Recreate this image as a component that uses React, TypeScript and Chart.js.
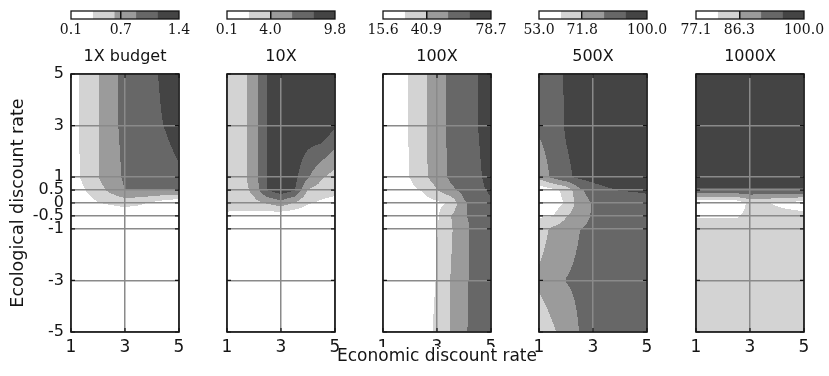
import React, { useEffect, useRef } from 'react';
import { Chart, registerables } from 'chart.js';

Chart.register(...registerables);

// ---- axes -------------------------------------------------------------
const ECON_RATES = [1, 1.5, 2, 2.5, 3, 3.5, 4, 4.5, 5];
const ECO_RATES = [-5, -3, -1, -0.5, 0, 0.5, 1, 3, 5];
const X_TICKS = [1, 3, 5];
const Y_TICKS = [5, 3, 1, 0.5, 0, -0.5, -1, -3, -5];

// ---- panels -----------------------------------------------------------
const PANEL_TITLES = ['1X budget', '10X', '100X', '500X', '1000X'];
const SCALE_MIN = [0.1, 0.1, 15.6, 53.0, 77.1];
const SCALE_MAX = [1.4, 9.8, 78.7, 100.0, 100.0];
const COLORBAR_LABELS = [
  ['0.1', '0.7', '1.4'],
  ['0.1', '4.0', '9.8'],
  ['15.6', '40.9', '78.7'],
  ['53.0', '71.8', '100.0'],
  ['77.1', '86.3', '100.0'],
];
const BAND_COLORS = ['#ffffff', '#d3d3d3', '#9b9b9b', '#676767', '#444444'];

// Outcome grids: one row per ecological rate (ECO_RATES, -5 .. 5),
// one column per economic rate (ECON_RATES, 1 .. 5).
const BUDGET_1X = [
  [0.1, 0.1, 0.1, 0.1, 0.1, 0.1, 0.1, 0.1, 0.1],
  [0.1, 0.1, 0.1, 0.1, 0.1, 0.1, 0.1, 0.1, 0.1],
  [0.1, 0.1, 0.1, 0.1, 0.1, 0.1, 0.1, 0.1, 0.1],
  [0.1, 0.1, 0.13, 0.15, 0.17, 0.15, 0.13, 0.1, 0.1],
  [0.15, 0.23, 0.35, 0.4, 0.45, 0.41, 0.32, 0.2, 0.13],
  [0.23, 0.35, 0.52, 0.7, 0.89, 0.89, 0.89, 0.89, 0.89],
  [0.26, 0.41, 0.61, 0.8, 0.91, 0.97, 1.01, 1.06, 1.11],
  [0.26, 0.43, 0.61, 0.83, 0.93, 1.0, 1.09, 1.15, 1.22],
  [0.26, 0.43, 0.61, 0.83, 0.93, 1.01, 1.1, 1.19, 1.27],
];
const BUDGET_10X = [
  [0.1, 0.1, 0.1, 0.1, 0.1, 0.1, 0.1, 0.1, 0.1],
  [0.1, 0.1, 0.1, 0.1, 0.1, 0.1, 0.1, 0.1, 0.1],
  [0.1, 0.1, 0.1, 0.1, 0.1, 0.1, 0.1, 0.1, 0.1],
  [1.65, 1.46, 1.26, 0.88, 0.49, 0.39, 0.29, 0.2, 0.1],
  [2.82, 3.01, 3.4, 4.17, 5.14, 3.79, 2.23, 1.65, 1.07],
  [2.62, 3.01, 4.56, 7.96, 9.02, 8.05, 3.79, 3.2, 2.82],
  [2.62, 3.01, 5.14, 8.05, 9.02, 8.44, 6.11, 4.17, 3.2],
  [2.62, 3.01, 5.14, 8.05, 9.02, 9.22, 9.41, 9.8, 8.05],
  [2.62, 3.01, 5.14, 8.05, 9.02, 9.22, 9.41, 9.61, 9.8],
];
const BUDGET_100X = [
  [16.86, 18.12, 19.39, 23.17, 30.74, 41.09, 52.2, 57.25, 59.77],
  [16.86, 18.12, 19.39, 22.54, 28.85, 41.09, 51.57, 57.25, 59.77],
  [16.86, 18.12, 19.39, 22.54, 27.59, 38.95, 50.94, 57.25, 59.77],
  [16.86, 18.12, 19.39, 21.91, 26.33, 40.21, 52.83, 55.98, 58.51],
  [18.12, 19.39, 20.65, 23.17, 25.7, 29.48, 52.2, 57.25, 63.56],
  [19.39, 21.91, 25.07, 29.48, 40.21, 50.94, 57.25, 62.29, 68.6],
  [20.65, 24.43, 28.47, 37.69, 47.78, 55.35, 59.14, 63.56, 71.13],
  [20.65, 24.43, 28.85, 38.32, 48.41, 55.98, 59.77, 65.83, 73.65],
  [20.65, 24.43, 28.85, 38.32, 48.41, 55.98, 59.77, 65.83, 73.65],
];
const BUDGET_500X = [
  [65.22, 70.39, 75.56, 81.39, 83.08, 84.02, 84.02, 84.02, 84.02],
  [73.68, 77.44, 81.39, 83.08, 84.02, 84.02, 84.02, 84.02, 84.02],
  [67.1, 73.68, 76.97, 81.01, 83.08, 84.02, 84.02, 84.02, 84.02],
  [61.46, 61.93, 70.86, 77.44, 82.14, 83.08, 84.02, 84.02, 84.02],
  [54.88, 56.76, 63.81, 76.31, 81.95, 83.08, 84.02, 84.96, 85.9],
  [55.82, 59.58, 65.22, 79.32, 85.9, 89.19, 91.07, 91.54, 92.48],
  [74.62, 83.08, 88.72, 92.48, 94.36, 95.3, 95.3, 95.3, 95.3],
  [83.08, 85.9, 91.54, 94.36, 95.3, 96.24, 97.18, 98.12, 99.06],
  [84.02, 86.84, 91.54, 94.36, 95.3, 96.24, 97.18, 98.12, 99.06],
];
const BUDGET_1000X = [
  [83.97, 83.97, 83.97, 83.97, 83.97, 83.97, 83.97, 83.97, 83.97],
  [83.97, 83.97, 83.97, 83.97, 83.97, 83.97, 83.97, 83.97, 83.97],
  [83.97, 83.97, 83.97, 83.97, 83.97, 83.97, 83.97, 83.97, 83.97],
  [81.22, 81.22, 81.22, 81.22, 83.05, 83.05, 83.05, 83.05, 83.05],
  [78.47, 78.47, 78.47, 78.47, 83.05, 82.14, 81.22, 80.31, 79.39],
  [94.96, 94.96, 94.96, 94.96, 94.96, 94.96, 94.96, 94.96, 94.96],
  [98.17, 98.17, 98.17, 98.17, 98.17, 98.17, 98.17, 98.17, 98.17],
  [98.17, 98.17, 98.17, 98.17, 98.17, 98.17, 98.17, 98.17, 98.17],
  [98.17, 98.17, 98.17, 98.17, 98.17, 98.17, 98.17, 98.17, 98.17],
];
const PANEL_GRIDS = [BUDGET_1X, BUDGET_10X, BUDGET_100X, BUDGET_500X, BUDGET_1000X];

// ---- layout / style ---------------------------------------------------
const PLOT_LEFT = [71, 227, 383, 539, 696];
const PLOT_W = 108;
const PAGE_H = 376;
const SANS = "'DejaVu Sans', sans-serif";
const SERIF = "'DejaVu Serif', serif";
const INK = '#141414';
const GRID_COLOR = '#8a8a8a';

function hexToRgb(hex: string): number[] {
  const n = parseInt(hex.slice(1), 16);
  return [(n >> 16) & 255, (n >> 8) & 255, n & 255];
}

function bandLevels(k: number): number[] {
  const lo = SCALE_MIN[k];
  const hi = SCALE_MAX[k];
  return [1, 2, 3, 4].map((i) => lo + (i * (hi - lo)) / 5);
}

function locate(arr: number[], v: number): [number, number] {
  const n = arr.length;
  if (v <= arr[0]) return [0, 0];
  if (v >= arr[n - 1]) return [n - 2, 1];
  let i = 0;
  while (v > arr[i + 1]) i++;
  return [i, (v - arr[i]) / (arr[i + 1] - arr[i])];
}

// bilinear value of a grid at (economic rate, ecological rate)
function sample(grid: number[][], x: number, y: number): number {
  const [c, tx] = locate(ECON_RATES, x);
  const [r, ty] = locate(ECO_RATES, y);
  const lower = grid[r][c] * (1 - tx) + grid[r][c + 1] * tx;
  const upper = grid[r + 1][c] * (1 - tx) + grid[r + 1][c + 1] * tx;
  return lower * (1 - ty) + upper * ty;
}

// Filled contour bands painted pixel by pixel through the chart's scales,
// then a framed box with inward tick marks on all four sides.
function makeContourPlugin(grid: number[][], levels: number[]) {
  const rgb = BAND_COLORS.map(hexToRgb);
  return {
    id: 'contourFill',
    beforeDraw(chart: any) {
      const { ctx, chartArea: area, scales } = chart;
      const x0 = Math.round(area.left);
      const y0 = Math.round(area.top);
      const w = Math.round(area.right) - x0;
      const h = Math.round(area.bottom) - y0;
      const off = document.createElement('canvas');
      off.width = w;
      off.height = h;
      const octx = off.getContext('2d')!;
      const img = octx.createImageData(w, h);
      for (let j = 0; j < h; j++) {
        const yv = scales.y.getValueForPixel(y0 + j + 0.5);
        for (let i = 0; i < w; i++) {
          const xv = scales.x.getValueForPixel(x0 + i + 0.5);
          const v = sample(grid, xv, yv);
          let b = 0;
          while (b < levels.length && v >= levels[b]) b++;
          const c = rgb[b];
          const p = (j * w + i) * 4;
          img.data[p] = c[0];
          img.data[p + 1] = c[1];
          img.data[p + 2] = c[2];
          img.data[p + 3] = 255;
        }
      }
      octx.putImageData(img, 0, 0);
      ctx.drawImage(off, x0, y0);
    },
    afterDraw(chart: any) {
      const { ctx, chartArea: a, scales } = chart;
      ctx.save();
      ctx.strokeStyle = INK;
      ctx.lineWidth = 1.2;
      ctx.beginPath();
      for (const v of Y_TICKS) {
        const py = scales.y.getPixelForValue(v);
        ctx.moveTo(a.left, py);
        ctx.lineTo(a.left + 4, py);
        ctx.moveTo(a.right - 4, py);
        ctx.lineTo(a.right, py);
      }
      for (const v of X_TICKS) {
        const px = scales.x.getPixelForValue(v);
        ctx.moveTo(px, a.top);
        ctx.lineTo(px, a.top + 4);
        ctx.moveTo(px, a.bottom - 4);
        ctx.lineTo(px, a.bottom);
      }
      ctx.stroke();
      ctx.lineWidth = 1.6;
      ctx.strokeRect(a.left, a.top, a.right - a.left, a.bottom - a.top);
      ctx.restore();
    },
  };
}

function ContourPanel({ k }: { k: number }) {
  const ref = useRef<HTMLCanvasElement>(null);
  const first = k === 0;
  const axisW = first ? PLOT_LEFT[0] : 60;
  const rightW = first ? 15 : 60;
  const canvasLeft = PLOT_LEFT[k] - axisW;
  const canvasW = axisW + PLOT_W + rightW;
  const withXTitle = k === 2;

  useEffect(() => {
    const grid = PANEL_GRIDS[k];
    const nodes = ECO_RATES.flatMap((y, r) => ECON_RATES.map((x, c) => ({ x, y, v: grid[r][c] })));
    const gridOpts = { color: GRID_COLOR, lineWidth: 1.5, drawTicks: false };
    const chart = new Chart(ref.current!, {
      type: 'scatter',
      data: { datasets: [{ data: nodes, pointRadius: 0, pointHoverRadius: 0 }] },
      options: {
        responsive: false,
        animation: false,
        events: [],
        layout: { padding: 0 },
        plugins: {
          legend: { display: false },
          tooltip: { enabled: false },
          title: {
            display: true,
            text: PANEL_TITLES[k],
            fullSize: false,
            color: INK,
            font: { family: SANS, size: 16, weight: 'normal', lineHeight: '20px' },
            padding: { top: 47, bottom: 7 },
          },
          subtitle: {
            display: withXTitle,
            position: 'bottom',
            fullSize: true,
            text: 'Economic discount rate',
            color: INK,
            font: { family: SANS, size: 17, weight: 'normal', lineHeight: '20px' },
            padding: { top: 0, bottom: 9 },
          },
        },
        scales: {
          x: {
            type: 'linear',
            min: 1,
            max: 5,
            afterBuildTicks: (s: any) => {
              s.ticks = X_TICKS.map((value) => ({ value }));
            },
            afterFit: (s: any) => {
              s.height = withXTitle ? 15 : 44;
            },
            ticks: {
              autoSkip: false,
              maxRotation: 0,
              padding: 5,
              color: INK,
              font: { family: SANS, size: 17 },
              callback: (v: any) => String(v),
            },
            grid: gridOpts,
            border: { display: false },
          },
          y: {
            type: 'linear',
            min: -5,
            max: 5,
            afterBuildTicks: (s: any) => {
              s.ticks = Y_TICKS.map((value) => ({ value }));
            },
            afterFit: (s: any) => {
              s.width = axisW;
            },
            ticks: {
              display: first,
              autoSkip: false,
              padding: 7,
              color: INK,
              font: { family: SANS, size: 16 },
              callback: (v: any) => String(v),
            },
            title: {
              display: first,
              text: 'Ecological discount rate',
              color: INK,
              font: { family: SANS, size: 17.5 },
              padding: { top: 8, bottom: 0 },
            },
            grid: gridOpts,
            border: { display: false },
          },
          // empty spacer on the right so the plot sits centred in its canvas
          yRight: {
            type: 'linear',
            position: 'right',
            min: 0,
            max: 1,
            afterFit: (s: any) => {
              s.width = rightW;
            },
            ticks: { display: false },
            grid: { display: false },
            border: { display: false },
          },
        },
      },
      plugins: [makeContourPlugin(grid, bandLevels(k))],
    } as any);
    return () => chart.destroy();
  }, [k]);

  return (
    <canvas
      ref={ref}
      width={canvasW}
      height={PAGE_H}
      style={{ position: 'absolute', left: canvasLeft, top: 0, width: canvasW, height: PAGE_H }}
    />
  );
}

const colorbarFrame = {
  id: 'colorbarFrame',
  afterDraw(chart: any) {
    const { ctx, chartArea: a } = chart;
    ctx.save();
    ctx.strokeStyle = INK;
    ctx.lineWidth = 1.3;
    ctx.strokeRect(a.left, a.top, a.right - a.left, a.bottom - a.top);
    ctx.restore();
  },
};

function ColorBar({ k }: { k: number }) {
  const ref = useRef<HTMLCanvasElement>(null);
  const pad = 30;
  const canvasW = PLOT_W + 2 * pad;
  const canvasH = 45;

  useEffect(() => {
    const lo = SCALE_MIN[k];
    const hi = SCALE_MAX[k];
    const step = (hi - lo) / BAND_COLORS.length;
    const labels = COLORBAR_LABELS[k];
    const tickValues = labels.map((t) => parseFloat(t));
    const mid = tickValues[1];
    const chart = new Chart(ref.current!, {
      type: 'bar',
      data: {
        labels: [''],
        datasets: BAND_COLORS.map((color, i) => ({
          data: [[lo + i * step, lo + (i + 1) * step]],
          backgroundColor: color,
          borderWidth: 0,
          barPercentage: 1,
          categoryPercentage: 1,
          grouped: false,
        })),
      },
      options: {
        indexAxis: 'y',
        responsive: false,
        animation: false,
        events: [],
        layout: { padding: { left: pad, right: pad, top: 11, bottom: 0 } },
        plugins: { legend: { display: false }, tooltip: { enabled: false } },
        scales: {
          x: {
            type: 'linear',
            min: lo,
            max: hi,
            afterBuildTicks: (s: any) => {
              s.ticks = tickValues.map((value) => ({ value }));
            },
            afterFit: (s: any) => {
              s.height = canvasH - 19;
            },
            ticks: {
              autoSkip: false,
              maxRotation: 0,
              padding: 3,
              color: INK,
              font: { family: SERIF, size: 14 },
              callback: (_v: any, i: number) => labels[i],
            },
            grid: {
              drawTicks: false,
              z: 1,
              lineWidth: 1.5,
              color: (c: any) => (c.tick && c.tick.value === mid ? INK : 'rgba(0,0,0,0)'),
            },
            border: { display: false },
          },
          y: { display: false },
        },
      },
      plugins: [colorbarFrame],
    } as any);
    return () => chart.destroy();
  }, [k]);

  return (
    <canvas
      ref={ref}
      width={canvasW}
      height={canvasH}
      style={{ position: 'absolute', left: PLOT_LEFT[k] - pad, top: 0, width: canvasW, height: canvasH }}
    />
  );
}

export default function App() {
  return (
    <div
      style={{
        position: 'fixed',
        left: 0,
        top: 0,
        width: 829,
        height: PAGE_H,
        background: '#ffffff',
        overflow: 'hidden',
      }}
    >
      {PANEL_TITLES.map((_, k) => (
        <ContourPanel key={'panel' + k} k={k} />
      ))}
      {PANEL_TITLES.map((_, k) => (
        <ColorBar key={'bar' + k} k={k} />
      ))}
    </div>
  );
}
